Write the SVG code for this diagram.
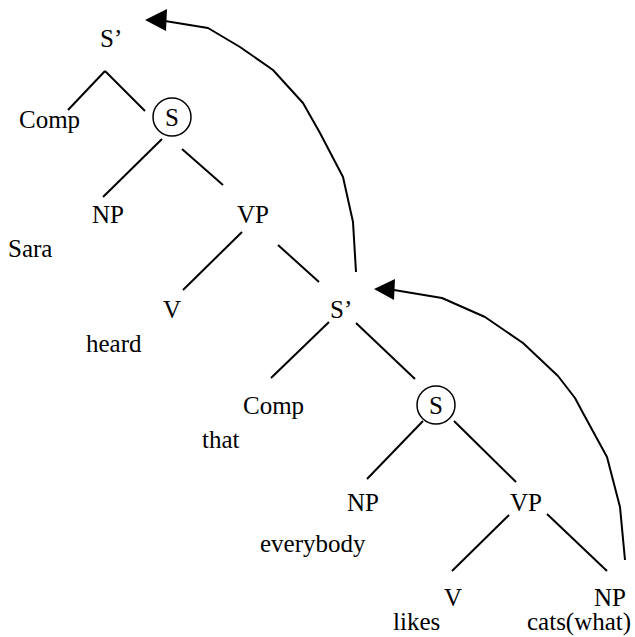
<svg xmlns="http://www.w3.org/2000/svg" width="635" height="637" viewBox="0 0 635 637">
  <style>
    text { font-family: "Liberation Serif", "Times New Roman", Times, "DejaVu Serif", serif; font-size: 25px; fill: #000; }
    .mid { text-anchor: middle; }
    .branch line { stroke: #000; stroke-width: 2; stroke-linecap: butt; }
    .move { fill: none; stroke: #000; stroke-width: 2; stroke-linejoin: round; }
    .head { fill: #000; }
    .ring { fill: none; stroke: #000; stroke-width: 1.5; }
  </style>
  <rect width="635" height="637" fill="#fff"/>

  <!-- tree branches and movement arrows -->
  <g id="connectors">
    <g class="branch">
      <line x1="105" y1="71" x2="68" y2="110"/>
      <line x1="105" y1="71" x2="145" y2="111"/>
      <line x1="162" y1="139" x2="103" y2="197"/>
      <line x1="182" y1="149" x2="223" y2="185"/>
      <line x1="242" y1="232" x2="183" y2="290"/>
      <line x1="278" y1="245" x2="319" y2="282"/>
      <line x1="329" y1="322" x2="271" y2="378"/>
      <line x1="356" y1="323" x2="415" y2="379"/>
      <line x1="423" y1="421" x2="367" y2="479"/>
      <line x1="454" y1="421" x2="516" y2="482"/>
      <line x1="509" y1="515" x2="452" y2="571"/>
      <line x1="547" y1="514" x2="607" y2="571"/>
    </g>
    <polyline class="move" points="356,272 353,222 343,177 320,133 303,103 273,70 240,47 208,28 165,21"/>
    <polygon class="head" points="145,20 167,9 166,31"/>
    <polyline class="move" points="625,560 620,507 607,457 583,413 575,398 558,376 523,343 485,317 442,298 394,290"/>
    <polygon class="head" points="374,289 395,279 394,300"/>
  </g>

  <g id="sbar-top"><text x="100" y="47">S’</text></g>
  <g id="comp-top"><text x="19" y="128">Comp</text></g>
  <g id="s-top">
    <circle class="ring" cx="172" cy="117" r="19"/>
    <text class="mid" x="172" y="126">S</text>
  </g>
  <g id="np-top"><text x="92" y="223">NP</text></g>
  <g id="vp-top"><text x="237" y="223">VP</text></g>
  <g id="word-sara"><text x="8" y="257">Sara</text></g>
  <g id="v-top"><text x="163" y="318">V</text></g>
  <g id="word-heard"><text x="86" y="352">heard</text></g>
  <g id="sbar-mid"><text x="330" y="318">S’</text></g>
  <g id="comp-mid"><text x="243" y="414">Comp</text></g>
  <g id="word-that"><text x="202" y="448">that</text></g>
  <g id="s-mid">
    <circle class="ring" cx="436" cy="405" r="19"/>
    <text class="mid" x="436" y="414">S</text>
  </g>
  <g id="np-mid"><text x="347" y="511">NP</text></g>
  <g id="vp-mid"><text x="510" y="511">VP</text></g>
  <g id="word-everybody"><text x="260" y="552">everybody</text></g>
  <g id="v-low"><text x="444" y="606">V</text></g>
  <g id="np-low"><text x="594" y="606">NP</text></g>
  <g id="word-likes"><text x="393" y="630">likes</text></g>
  <g id="word-cats"><text x="527" y="630">cats(what)</text></g>
</svg>
